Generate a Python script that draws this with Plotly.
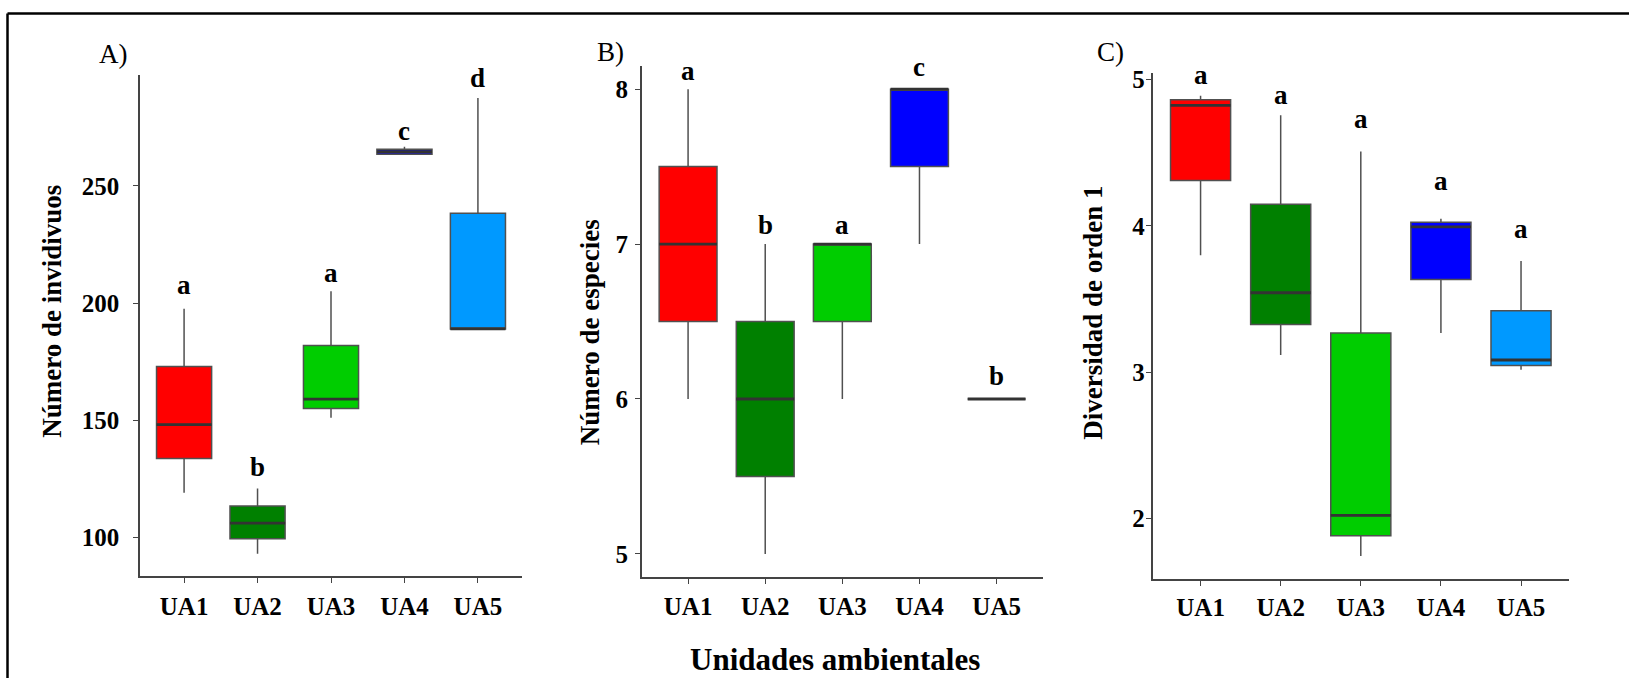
import plotly.graph_objects as go

W, H = 1629, 678

categories = ["UA1", "UA2", "UA3", "UA4", "UA5"]
colors = ["#FF0000", "#008000", "#00CD00", "#0000FF", "#0099FF"]

# Panel A: Número de individuos
a_lo = [119.2, 93.1, 151.1, 263.4, 188.5]
a_q1 = [133.8, 99.5, 155.1, 263.4, 189.0]
a_med = [148.2, 106.2, 159.1, 264.5, 189.0]
a_q3 = [173.0, 113.5, 181.9, 265.6, 238.3]
a_hi = [197.6, 121.0, 205.0, 266.6, 287.4]
a_letters = ["a", "b", "a", "c", "d"]
a_letter_y = [207.7, 130.0, 212.7, 273.3, 296.0]
a_ticks = [100, 150, 200, 250]

# Panel B: Número de especies
b_lo = [6, 5, 6, 7, 6]
b_q1 = [6.5, 5.5, 6.5, 7.5, 6]
b_med = [7, 6, 7, 8, 6]
b_q3 = [7.5, 6.5, 7, 8, 6]
b_hi = [8, 7, 7, 8, 6]
b_letters = ["a", "b", "a", "c", "b"]
b_letter_y = [8.116, 7.12, 7.12, 8.144, 6.15]
b_ticks = [5, 6, 7, 8]

# Panel C: Diversidad de orden 1
c_lo = [3.80, 3.118, 1.742, 3.267, 3.016]
c_q1 = [4.31, 3.326, 1.88, 3.634, 3.045]
c_med = [4.825, 3.543, 2.02, 3.993, 3.083]
c_q3 = [4.863, 4.149, 3.267, 4.026, 3.42]
c_hi = [4.89, 4.757, 4.509, 4.049, 3.76]
c_letters = ["a", "a", "a", "a", "a"]
c_letter_y = [5.03, 4.895, 4.731, 4.304, 3.976]
c_ticks = [2, 3, 4, 5]

panels = [
    dict(lo=a_lo, q1=a_q1, med=a_med, q3=a_q3, hi=a_hi, letters=a_letters,
         ly=a_letter_y, ticks=a_ticks, title="Número de invidivuos", tag="A)",
         xd=(140, 522), yd=(68.3, 575.1), yr=(83.6, 297.4),
         title_pos=(52, 308), tag_pos=(113.5, 47), ysd=9, xsd=2),
    dict(lo=b_lo, q1=b_q1, med=b_med, q3=b_q3, hi=b_hi, letters=b_letters,
         ly=b_letter_y, ticks=b_ticks, title="Número de especies", tag="B)",
         xd=(641.8, 1042.9), yd=(59.7, 576.4), yr=(4.848, 8.149),
         title_pos=(590, 328.6), tag_pos=(610, 45), ysd=2, xsd=1),
    dict(lo=c_lo, q1=c_q1, med=c_med, q3=c_q3, hi=c_hi, letters=c_letters,
         ly=c_letter_y, ticks=c_ticks, title="Diversidad de orden 1", tag="C)",
         xd=(1152.5, 1569.1), yd=(67, 578.1), yr=(1.584, 5.044),
         title_pos=(1093, 309), tag_pos=(1110.6, 45), ysd=-4, xsd=0),
]

FONT = "Liberation Serif"
BOXW = 0.75
fig = go.Figure()
annotations = []

for p_i, p in enumerate(panels):
    sfx = "" if p_i == 0 else str(p_i + 1)
    xa, ya = "x" + sfx, "y" + sfx
    for i, cat in enumerate(categories):
        fig.add_trace(go.Box(
            x=[i], q1=[p["q1"][i]], median=[p["med"][i]], q3=[p["q3"][i]],
            lowerfence=[p["lo"][i]], upperfence=[p["hi"][i]],
            fillcolor=colors[i], line=dict(color="#505050", width=1.5),
            width=BOXW, whiskerwidth=0, boxpoints=False, showlegend=False,
            xaxis=xa, yaxis=ya, hoverinfo="skip"))
    mx, my = [], []
    for i in range(len(categories)):
        mx += [i - BOXW / 2, i + BOXW / 2, None]
        my += [p["med"][i], p["med"][i], None]
    fig.add_trace(go.Scatter(x=mx, y=my, mode="lines",
                             line=dict(color="#333333", width=2.8),
                             showlegend=False, hoverinfo="skip",
                             xaxis=xa, yaxis=ya))
    for i, lt in enumerate(p["letters"]):
        annotations.append(dict(x=i, y=p["ly"][i], xref=xa, yref=ya, text=lt,
                                showarrow=False, yanchor="middle",
                                font=dict(family=FONT, size=27, color="black",
                                          weight="bold")))
    axis_common = dict(showline=True, linecolor="#444444", linewidth=1.5,
                       ticks="outside", ticklen=5, tickcolor="#444444",
                       tickwidth=1.3, showgrid=False, zeroline=False,
                       tickfont=dict(family=FONT, size=25, color="black",
                                     weight="bold"))
    fig.update_layout(**{
        "xaxis" + sfx: dict(domain=[p["xd"][0] / W, p["xd"][1] / W],
                            range=[-0.6, 4.6], tickvals=list(range(5)),
                            ticktext=categories, anchor=ya,
                            ticklabelstandoff=p["xsd"], **axis_common),
        "yaxis" + sfx: dict(domain=[1 - p["yd"][1] / H, 1 - p["yd"][0] / H],
                            range=list(p["yr"]), tickvals=p["ticks"],
                            anchor=xa, ticklabelstandoff=p["ysd"], **axis_common),
    })
    annotations.append(dict(x=p["title_pos"][0] / W, y=1 - p["title_pos"][1] / H,
                            xref="paper", yref="paper", text=p["title"],
                            textangle=-90, showarrow=False,
                            xanchor="center", yanchor="middle",
                            font=dict(family=FONT, size=27, color="black",
                                      weight="bold")))
    annotations.append(dict(x=p["tag_pos"][0] / W, y=1 - p["tag_pos"][1] / H,
                            xref="paper", yref="paper", text=p["tag"],
                            showarrow=False, xanchor="center", yanchor="middle",
                            font=dict(family=FONT, size=27, color="black")))

annotations.append(dict(x=835 / W, y=1 - 659 / H, xref="paper", yref="paper",
                        text="Unidades ambientales", showarrow=False,
                        xanchor="center", yanchor="middle",
                        font=dict(family=FONT, size=31, color="black",
                                  weight="bold")))

fig.update_layout(
    width=W, height=H, margin=dict(l=0, r=0, t=0, b=0),
    paper_bgcolor="white", plot_bgcolor="white",
    annotations=annotations,
    shapes=[
        dict(type="line", xref="paper", yref="paper", x0=7.5 / W, x1=7.5 / W,
             y0=-0.05, y1=1 - 6.5 / H, line=dict(color="black", width=2.5)),
        dict(type="line", xref="paper", yref="paper", x0=7.5 / W, x1=1.05,
             y0=1 - 6.5 / H, y1=1 - 6.5 / H, line=dict(color="black", width=2.5)),
    ],
)

fig.write_html("out.html")
